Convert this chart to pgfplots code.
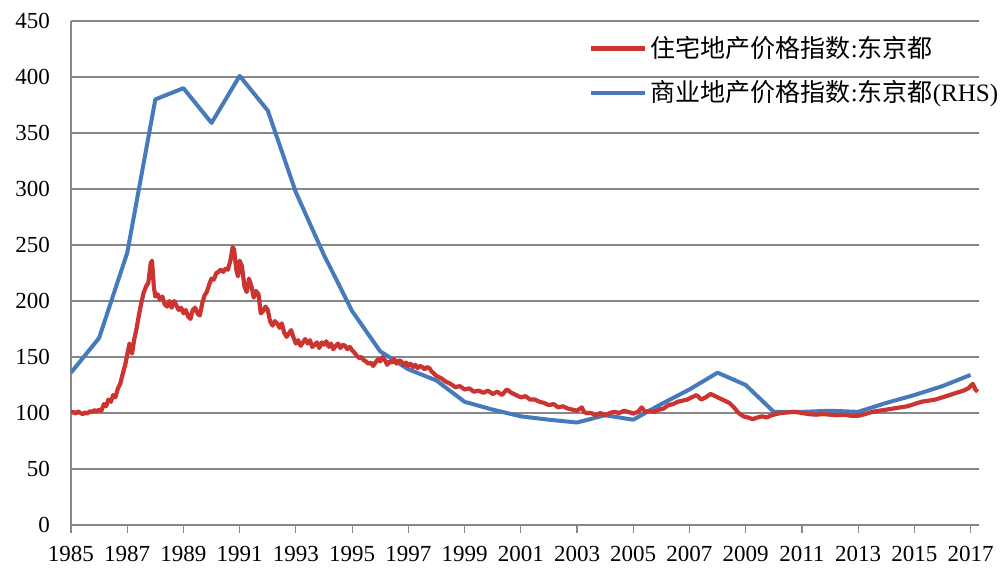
\documentclass[border=0pt]{standalone}
\usepackage{fontspec}
\setmainfont{Liberation Serif}
\newfontfamily\cjk{Noto Sans CJK SC}
\usepackage{pgfplots}
\pgfplotsset{compat=1.18}

\definecolor{resred}{RGB}{204,52,50}
\definecolor{comblue}{RGB}{70,122,186}
\definecolor{gridgray}{RGB}{135,135,135}

\pgfplotstableread{
year val
1985 136
1986 167
1987 243
1988 380
1989 390
1990 359
1991 401
1992 370
1993 297
1994 241
1995 191
1996 155
1997 139
1998 129
1999 110
2000 103
2001 97
2002 94
2003 91.5
2004 98
2005 94
2006 108
2007 121
2008 136
2009 125
2010 101
2011 101
2012 102
2013 101
2014 109
2015 116
2016 124
2017 134
}\commercial

\pgfplotstableread{
year val
1985.00 100
1985.08 101
1985.17 99.5
1985.25 101.5
1985.33 100
1985.42 99
1985.50 100.5
1985.58 99.5
1985.67 101.5
1985.75 101
1985.83 102.5
1985.92 101.5
1986.00 103
1986.08 102
1986.17 108
1986.25 106
1986.33 112
1986.42 110
1986.50 116
1986.58 114
1986.67 122
1986.75 126
1986.83 134
1986.92 142
1987.00 152
1987.08 162
1987.17 153
1987.25 166
1987.33 175
1987.42 188
1987.50 198
1987.58 207
1987.67 213
1987.75 216
1987.83 233
1987.88 236
1987.95 212
1988.00 204
1988.08 206
1988.17 201
1988.25 204
1988.33 197
1988.42 195
1988.50 200
1988.58 194
1988.67 200
1988.75 196
1988.83 192
1988.92 194
1989.00 189
1989.08 192
1989.17 186
1989.25 184
1989.33 192
1989.42 194
1989.50 189
1989.58 187
1989.67 198
1989.75 205
1989.83 208
1989.92 215
1990.00 220
1990.08 219
1990.17 225
1990.25 226
1990.33 228
1990.42 226
1990.50 229
1990.58 228
1990.67 236
1990.75 248
1990.80 246
1990.88 228
1990.94 222
1991.00 236
1991.08 231
1991.17 213
1991.25 208
1991.33 220
1991.42 213
1991.50 203
1991.58 209
1991.67 206
1991.75 189
1991.83 191
1991.92 195
1992.00 192
1992.08 182
1992.17 178
1992.25 182
1992.33 180
1992.42 176
1992.50 180
1992.58 172
1992.67 168
1992.75 171
1992.83 174
1992.92 167
1993.00 162
1993.08 165
1993.17 160
1993.25 163
1993.33 166
1993.42 162
1993.50 165
1993.58 159
1993.67 161
1993.75 163
1993.83 158
1993.92 163
1994.00 161
1994.08 164
1994.17 159
1994.25 162
1994.33 157
1994.42 160
1994.50 162
1994.58 158
1994.67 161
1994.75 160
1994.83 157
1994.92 159
1995.00 156
1995.08 154
1995.17 151
1995.25 149
1995.33 150
1995.42 147
1995.50 146
1995.58 144
1995.67 145
1995.75 142
1995.83 145
1995.92 148
1996.00 146
1996.08 150
1996.17 147
1996.25 143
1996.33 146
1996.42 145
1996.50 148
1996.58 144
1996.67 147
1996.75 146
1996.83 143
1996.92 145
1997.00 142
1997.08 144
1997.17 141
1997.25 143
1997.33 140
1997.42 142
1997.50 141
1997.58 139
1997.67 141
1997.75 140
1997.83 137
1997.92 135
1998.00 133
1998.17 131
1998.33 128
1998.50 126
1998.67 123
1998.83 124
1999.00 121
1999.17 122
1999.33 119
1999.50 120
1999.67 118
1999.83 120
2000.00 117
2000.17 119
2000.33 116
2000.50 121
2000.67 118
2000.83 116
2001.00 114
2001.17 115
2001.33 112
2001.50 112
2001.67 110
2001.83 109
2002.00 107
2002.17 108
2002.33 105
2002.50 106
2002.67 104
2002.83 103
2003.00 102
2003.17 105
2003.25 101
2003.33 100
2003.50 100
2003.67 98
2003.83 100
2004.00 98
2004.17 100
2004.33 101
2004.50 100
2004.67 102
2004.83 101
2005.00 99.5
2005.17 101
2005.30 105
2005.42 101
2005.58 102
2005.75 101
2005.92 103
2006.08 104
2006.25 107
2006.42 108
2006.58 110
2006.75 111
2006.92 112
2007.08 114
2007.25 116
2007.42 112
2007.58 114
2007.75 117
2007.92 115
2008.08 113
2008.25 111
2008.42 109
2008.58 105
2008.75 100
2008.92 97
2009.08 96
2009.25 94.5
2009.42 96
2009.58 97
2009.75 96
2009.92 98
2010.08 99
2010.25 100
2010.50 100.5
2010.75 101
2011.00 100
2011.25 99
2011.50 98.5
2011.75 99
2012.00 98.5
2012.25 98
2012.50 98.5
2012.75 97.5
2013.00 97.5
2013.25 99
2013.50 101
2013.75 102
2014.00 103
2014.25 104
2014.50 105
2014.75 106
2015.00 108
2015.25 110
2015.50 111
2015.75 112
2016.00 114
2016.25 116
2016.50 118
2016.75 120
2016.92 122
2017.00 124
2017.08 126
2017.17 121
2017.25 119
}\residential

\begin{document}
\begin{tikzpicture}
\begin{axis}[
  scale only axis,
  width=454pt, height=252pt,
  xmin=1985, xmax=2017.3,
  ymin=0, ymax=450,
  axis x line*=bottom,
  axis y line*=left,
  axis line style={gridgray, line width=0.6pt, -},
  xtick={1985,1987,...,2017},
  ytick={0,50,...,450},
  xticklabel style={/pgf/number format/1000 sep={}},
  /pgf/number format/assume math mode=true,
  tick label style={font=\fontsize{11.5}{13}\selectfont, black},
  x tick style={gridgray, line width=0.6pt},
  tick align=outside,
  major tick length=4pt,
  y tick style={draw=none},
  xticklabel shift=3pt,
  yticklabel shift=3pt,
  ymajorgrids,
  major grid style={gridgray, line width=0.6pt},
  legend style={at={(0.563,0.986)}, anchor=north west, draw=none, fill=none,
    font=\fontsize{12.5}{14}\selectfont, row sep=6pt,
    legend cell align=left},
  legend image code/.code={\draw[#1] (0cm,0cm) -- (0.95cm,0cm);},
]
\addplot[comblue, line width=2pt, line join=round, forget plot] table[x=year,y=val] {\commercial};
\addplot[resred, line width=2.1pt, line join=round] table[x=year,y=val] {\residential};
\addlegendentry{{\cjk 住宅地产价格指数}:{\cjk 东京都}}
\addlegendimage{comblue, line width=2pt}
\addlegendentry{{\cjk 商业地产价格指数}:{\cjk 东京都}(RHS)}
\end{axis}
\pgfresetboundingbox
\path ([shift={(-35.5pt,-25.5pt)}]current axis.south west) rectangle ([shift={(10.5pt,10.5pt)}]current axis.north east);
\end{tikzpicture}
\end{document}
